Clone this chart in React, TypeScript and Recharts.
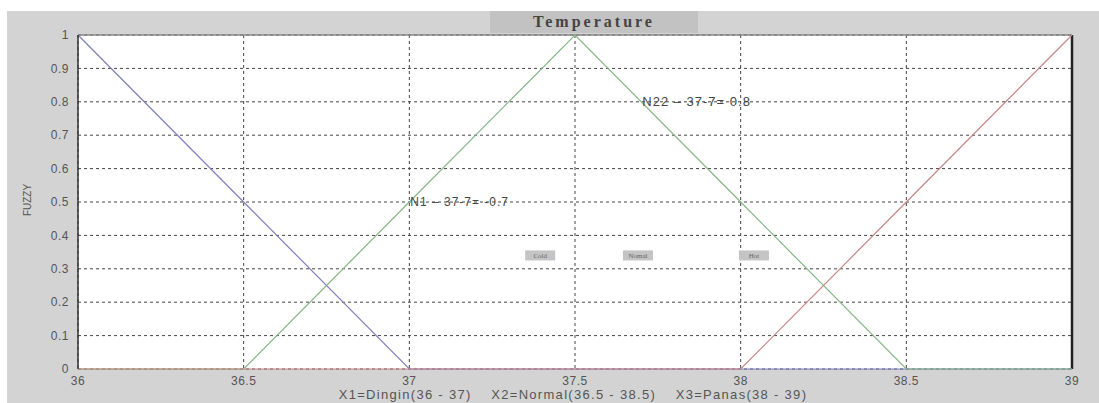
import React from 'react'
import {
  LineChart,
  Line,
  XAxis,
  YAxis,
  CartesianGrid,
  ReferenceLine,
  ReferenceDot,
} from 'recharts'

// membership functions sampled at the x ticks
const temps = [36, 36.5, 37, 37.5, 38, 38.5, 39]
const dingin = [1, 0.5, 0, 0, 0, 0, 0]
const normal = [0, 0, 0.5, 1, 0.5, 0, 0]
const panas = [0, 0, 0, 0, 0, 0.5, 1]

const xTicks = [36, 36.5, 37, 37.5, 38, 38.5, 39]
const yTicks = [0, 0.1, 0.2, 0.3, 0.4, 0.5, 0.6, 0.7, 0.8, 0.9, 1]

const notes = [
  { x: 37, y: 0.5, text: 'N1 – 37-7= -0.7', size: 12 },
  { x: 37.7, y: 0.8, text: 'N22 – 37-7= 0.8', size: 13 },
]
const tags = [
  { x: 37.395, y: 0.34, text: 'Cold' },
  { x: 37.69, y: 0.34, text: 'Nomal' },
  { x: 38.04, y: 0.34, text: 'Hot' },
]

const chartData = temps.map((t, i) => ({
  t,
  dingin: dingin[i],
  normal: normal[i],
  panas: panas[i],
}))

const tickFont = { fontFamily: 'Liberation Sans, Arial, sans-serif', fontSize: 12, fill: '#555', letterSpacing: 0.5 }

const NoteLabel = ({ viewBox, value, size }: any) => {
  const { x, y } = viewBox
  return (
    <text
      x={x + 1}
      y={y}
      dy={4}
      fontFamily="Liberation Sans, Arial, sans-serif"
      fontSize={size}
      letterSpacing={1}
      fill="#444"
    >
      {value}
    </text>
  )
}

const TagLabel = ({ viewBox, value }: any) => {
  const { x, y } = viewBox
  return (
    <g>
      <rect x={x - 15} y={y - 5} width={30} height={10} fill="#c4c4c4" />
      <text x={x} y={y} dy={3} textAnchor="middle" fontFamily="Liberation Serif, serif" fontSize={7} fill="#666">
        {value}
      </text>
    </g>
  )
}

const App = () => {
  return (
    <div style={{ position: 'absolute', left: 0, top: 0, width: 1099, height: 403, background: '#fff' }}>
      {/* gray figure window */}
      <div style={{ position: 'absolute', left: 7, top: 11, width: 1092, height: 392, background: '#d3d3d3' }} />
      <div
        style={{
          position: 'absolute',
          left: 490,
          top: 11,
          width: 208,
          height: 22,
          background: '#c2c2c2',
          fontFamily: 'Liberation Serif, serif',
          fontWeight: 'bold',
          fontSize: 16,
          color: '#444',
          textAlign: 'center',
          lineHeight: '22px',
          letterSpacing: 3,
        }}
      >
        Temperature
      </div>
      <div
        style={{
          position: 'absolute',
          left: 27,
          top: 200,
          transform: 'translate(-50%, -50%) rotate(-90deg)',
          fontFamily: 'Liberation Sans, Arial, sans-serif',
          fontSize: 10,
          color: '#555',
        }}
      >
        FUZZY
      </div>
      <div
        style={{
          position: 'absolute',
          left: 0,
          width: 1146,
          top: 387,
          textAlign: 'center',
          fontFamily: 'Liberation Sans, Arial, sans-serif',
          fontSize: 13,
          letterSpacing: 1.3,
          color: '#555',
          whiteSpace: 'pre',
        }}
      >
        {'X1=Dingin(36 - 37)    X2=Normal(36.5 - 38.5)    X3=Panas(38 - 39)'}
      </div>
      <div style={{ position: 'absolute', left: 0, top: 0 }}>
        <LineChart
          width={1099}
          height={403}
          data={chartData}
          margin={{ top: 35, right: 27, left: 38, bottom: 14 }}
        >
          <CartesianGrid
            fill="#fff"
            stroke="#444"
            strokeDasharray="3 3"
            verticalValues={xTicks}
            horizontalValues={yTicks}
          />
          <XAxis
            dataKey="t"
            type="number"
            domain={[36, 39]}
            ticks={xTicks}
            axisLine={false}
            tickLine={false}
            tick={tickFont}
            tickMargin={1}
            height={20}
            interval={0}
          />
          <YAxis
            type="number"
            domain={[0, 1]}
            ticks={yTicks}
            axisLine={{ stroke: '#333', strokeWidth: 1.5 }}
            tickLine={false}
            tick={tickFont}
            tickMargin={3}
            width={40}
            interval={0}
          />
          <ReferenceLine y={1} stroke="#888" strokeWidth={1.5} />
          <ReferenceLine x={39} stroke="#222" strokeWidth={2.5} />

          <Line dataKey="dingin" type="linear" stroke="#7f7fbf" strokeWidth={1.2} dot={false} isAnimationActive={false} />
          <Line dataKey="normal" type="linear" stroke="#86b686" strokeWidth={1.2} dot={false} isAnimationActive={false} />
          <Line dataKey="panas" type="linear" stroke="#c98484" strokeWidth={1.2} dot={false} isAnimationActive={false} />

          {notes.map((n) => (
            <ReferenceDot
              key={n.text}
              x={n.x}
              y={n.y}
              r={0}
              stroke="none"
              label={<NoteLabel value={n.text} size={n.size} />}
            />
          ))}
          {tags.map((n) => (
            <ReferenceDot
              key={n.text}
              x={n.x}
              y={n.y}
              r={0}
              stroke="none"
              label={<TagLabel value={n.text} />}
            />
          ))}
        </LineChart>
      </div>
    </div>
  )
}

export default App
